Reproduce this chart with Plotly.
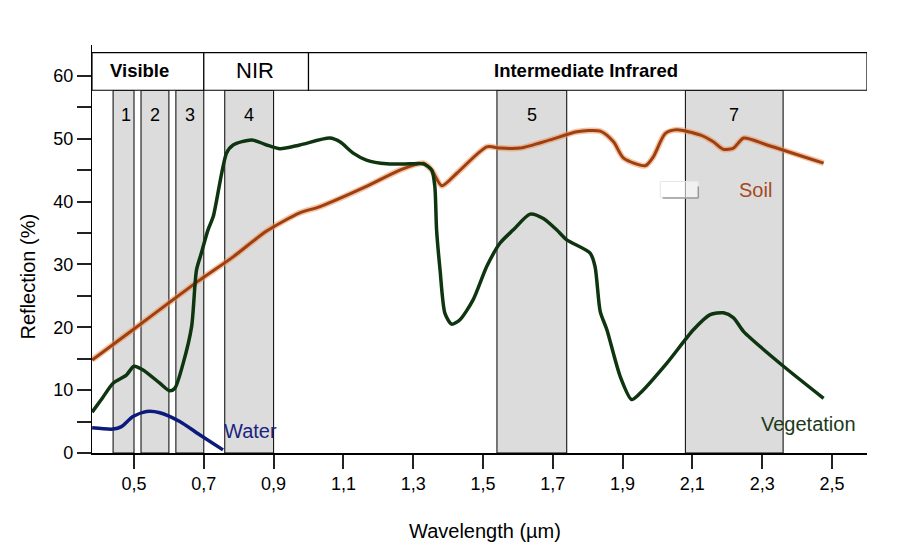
import plotly.graph_objects as go

# ---------------- data ----------------
veg_x = [0.38, 0.41, 0.44, 0.478, 0.50, 0.526, 0.574, 0.602, 0.617, 0.641, 0.665, 0.679, 0.693,
         0.712, 0.727, 0.765, 0.784, 0.837, 0.880, 0.918, 0.975, 1.061, 1.090, 1.128, 1.166,
         1.224, 1.291, 1.329, 1.353, 1.362, 1.367, 1.377, 1.391, 1.410, 1.434, 1.472, 1.511,
         1.549, 1.587, 1.635, 1.673, 1.711, 1.740, 1.807, 1.821, 1.836, 1.855, 1.893, 1.926,
         1.950, 2.027, 2.103, 2.151, 2.189, 2.218, 2.247, 2.361, 2.476]
veg_y = [6.5, 8.8, 11.1, 12.4, 13.8, 13.2, 11.1, 9.9, 10.3, 14.3, 20.1, 29.1, 31.8,
         35.5, 37.6, 47.7, 49.0, 49.8, 49.0, 48.4, 49.0, 50.1, 49.5, 47.7, 46.6,
         46.0, 46.0, 46.0, 45.0, 42.4, 35.5, 29.1, 22.2, 20.5, 21.2, 24.4, 29.7,
         33.4, 35.5, 38.0, 37.3, 35.5, 33.9, 31.8, 29.7, 22.5, 19.6, 12.2, 8.5,
         9.5, 14.3, 19.6, 22.0, 22.3, 21.5, 19.3, 13.8, 8.7]

soil_x = [0.38, 0.497, 0.593, 0.688, 0.784, 0.880, 0.975, 1.033, 1.166, 1.262, 1.329, 1.353,
          1.382, 1.425, 1.511, 1.549, 1.606, 1.692, 1.769, 1.836, 1.874, 1.903, 1.965, 1.988,
          2.022, 2.055, 2.122, 2.160, 2.189, 2.218, 2.247, 2.314, 2.476]
soil_y = [14.8, 19.6, 23.6, 27.5, 31.2, 35.3, 38.2, 39.2, 42.4, 45.0, 46.1, 45.0,
          42.5, 44.5, 48.7, 48.5, 48.5, 49.8, 51.1, 51.2, 49.5, 46.9, 45.7, 47.1,
          50.8, 51.4, 50.6, 49.5, 48.3, 48.5, 50.1, 49.0, 46.1]

water_x = [0.38, 0.44, 0.464, 0.497, 0.536, 0.574, 0.631, 0.688, 0.755]
water_y = [4.0, 3.8, 4.2, 5.8, 6.6, 6.4, 5.0, 2.9, 0.5]

band_names = ["1", "2", "3", "4", "5", "7"]
band_start = [0.44, 0.52, 0.62, 0.76, 1.54, 2.08]
band_end = [0.50, 0.60, 0.70, 0.90, 1.74, 2.36]

region_names = ["Visible", "NIR", "Intermediate Infrared"]
region_start = [0.3796, 0.70, 1.00]
region_end = [0.70, 1.00, 2.6004]
region_label_x = [0.515, 0.8456, 1.795]
region_bold = [True, False, True]

x_ticks = [0.5, 0.7, 0.9, 1.1, 1.3, 1.5, 1.7, 1.9, 2.1, 2.3, 2.5]
x_ticktext = ["0,5", "0,7", "0,9", "1,1", "1,3", "1,5", "1,7", "1,9", "2,1", "2,3", "2,5"]
y_ticks = [0, 5, 10, 15, 20, 25, 30, 35, 40, 45, 50, 55, 60]
y_ticktext = ["0", "", "10", "", "20", "", "30", "", "40", "", "50", "", "60"]

XMIN, XMAX = 0.3796, 2.6004
YMIN, YMAX = 0, 64.9
HDR_LO, HDR_HI = 57.7, 63.7

SOIL_C = "#9e3f12"
VEG_C = "#0f3510"
WATER_C = "#0c1a7c"
FONT = "Liberation Sans, Arial, sans-serif"

# page has an 8px body margin; figure is sized/offset to compensate
OFF = 8
W, H = 920 - OFF, 547 - OFF
PL, PR, PT, PB = 92.3 - OFF, 866.7 - OFF, 45 - OFF, 453.3 - OFF   # plot box in figure px
PW, PH = PR - PL, PB - PT

fig = go.Figure()

fig.add_trace(go.Scatter(x=soil_x, y=soil_y, mode="lines",
                         line=dict(color="rgba(235,150,90,0.55)", width=6, shape="spline", smoothing=0.7),
                         hoverinfo="skip", showlegend=False))
fig.add_trace(go.Scatter(x=soil_x, y=soil_y, mode="lines", name="Soil",
                         line=dict(color=SOIL_C, width=3, shape="spline", smoothing=0.7),
                         showlegend=False))
fig.add_trace(go.Scatter(x=veg_x, y=veg_y, mode="lines", name="Vegetation",
                         line=dict(color=VEG_C, width=3.5, shape="spline", smoothing=0.7),
                         showlegend=False))
fig.add_trace(go.Scatter(x=water_x, y=water_y, mode="lines", name="Water",
                         line=dict(color=WATER_C, width=3.5, shape="spline", smoothing=0.7),
                         showlegend=False))

shapes = []
annotations = []

for name, a, b in zip(band_names, band_start, band_end):
    shapes.append(dict(type="rect", xref="x", yref="y", x0=a, x1=b, y0=0, y1=HDR_LO,
                       fillcolor="#dcdcdc", line=dict(color="#000000", width=1), layer="below"))
    annotations.append(dict(x=(a + b) / 2 + (0.006 if name == "1" else 0), y=53.7, xref="x", yref="y",
                            text=name, showarrow=False,
                            font=dict(family=FONT, size=18, color="#000000")))

for name, a, b, lx, bold in zip(region_names, region_start, region_end, region_label_x, region_bold):
    shapes.append(dict(type="rect", xref="x", yref="y", x0=a, x1=b, y0=HDR_LO, y1=HDR_HI,
                       fillcolor="#ffffff", line=dict(color="#000000", width=1.2), layer="below"))
    annotations.append(dict(x=lx, y=(HDR_LO + HDR_HI) / 2 + 0.1, xref="x", yref="y",
                            text=f"<b>{name}</b>" if bold else name, showarrow=False,
                            font=dict(family=FONT, size=18.5 if bold else 22, color="#000000")))

# faint artefact box
shapes.append(dict(type="rect", xref="x", yref="y", x0=2.008, x1=2.117, y0=40.6, y1=43.2,
                   fillcolor="rgba(255,255,255,0.6)", line=dict(color="#e6e6e6", width=1), layer="above"))
shapes.append(dict(type="line", xref="x", yref="y", x0=2.015, x1=2.117, y0=40.55, y1=40.55,
                   line=dict(color="#9a9a9a", width=1.5), layer="above"))
shapes.append(dict(type="line", xref="x", yref="y", x0=2.117, x1=2.117, y0=40.55, y1=42.4,
                   line=dict(color="#9a9a9a", width=1.5), layer="above"))

annotations.append(dict(x=0.7515, y=3.54, xref="x", yref="y", text="Water", showarrow=False,
                        xanchor="left", font=dict(family=FONT, size=20, color="#1a237e")))
annotations.append(dict(x=2.229, y=41.8, xref="x", yref="y", text="Soil", showarrow=False,
                        xanchor="left", font=dict(family=FONT, size=20, color="#a34a1e")))
annotations.append(dict(x=2.2895, y=4.66, xref="x", yref="y", text="Vegetation", showarrow=False,
                        xanchor="left", font=dict(family=FONT, size=20, color="#1b3a1b")))

# axis titles (positions in paper coords derived from pixel targets)
annotations.append(dict(x=(28 - OFF - PL) / PW, y=(PB - (277 - OFF)) / PH, xref="paper", yref="paper",
                        text="Reflection (%)", textangle=-90, showarrow=False,
                        xanchor="center", yanchor="middle",
                        font=dict(family=FONT, size=20, color="#000000")))
annotations.append(dict(x=(484.7 - OFF - PL) / PW, y=(PB - (531.7 - OFF)) / PH, xref="paper", yref="paper",
                        text="Wavelength (µm)", showarrow=False, xanchor="center", yanchor="middle",
                        font=dict(family=FONT, size=20, color="#000000")))

fig.update_layout(
    width=W, height=H,
    margin=dict(l=PL, r=W - PR, t=PT, b=H - PB, autoexpand=False),
    paper_bgcolor="#ffffff", plot_bgcolor="#ffffff",
    shapes=shapes, annotations=annotations,
    showlegend=False,
    font=dict(family=FONT, color="#000000"),
)
fig.update_xaxes(range=[XMIN, XMAX], tickvals=x_ticks, ticktext=x_ticktext,
                 showgrid=False, zeroline=False, showline=True, linecolor="#000000", linewidth=1.5,
                 ticks="outside", ticklen=14, tickwidth=2, tickcolor="#222222",
                 tickfont=dict(family=FONT, size=18, color="#000000"))
fig.update_yaxes(range=[YMIN, YMAX], tickvals=y_ticks, ticktext=y_ticktext,
                 showgrid=False, zeroline=False, showline=True, linecolor="#000000", linewidth=1.2,
                 ticks="outside", ticklen=14, tickwidth=2, tickcolor="#222222",
                 tickfont=dict(family=FONT, size=18, color="#000000"))

fig.write_html("out.html")
